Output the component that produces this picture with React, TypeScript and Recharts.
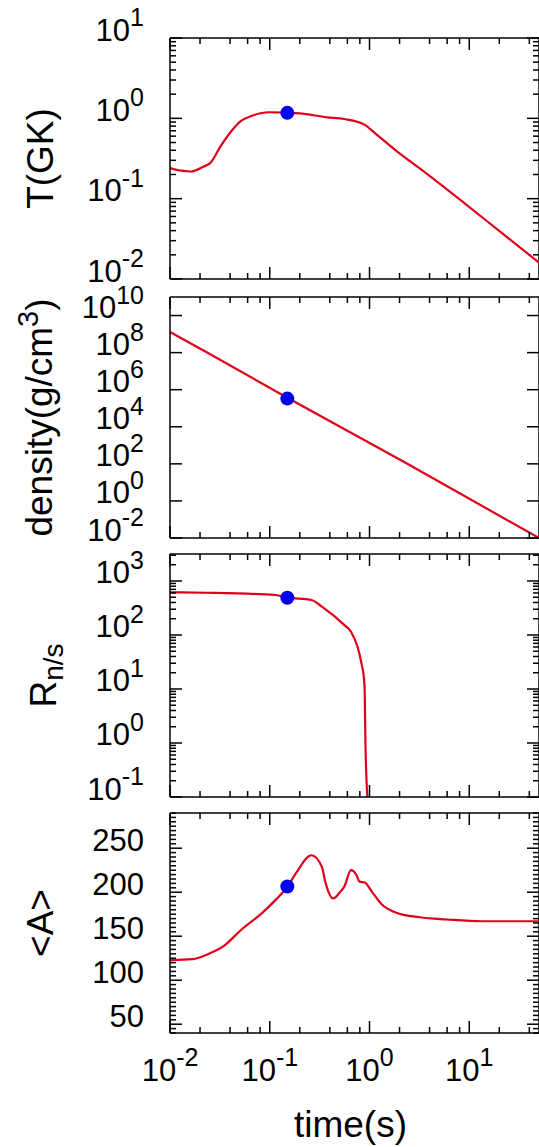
import React from "react";
import { LineChart, Line, XAxis, YAxis, ReferenceDot, ReferenceLine, Label } from "recharts";

const FONT = "'Liberation Sans', Arial, Helvetica, sans-serif";
const RED = "#e0001a";
const BLUE = "#0000f0";

const CHART_W = 539;
const AXIS_W = 170;
const PLOT_W = CHART_W - AXIS_W;
const MARGIN_TOP = 36;
const X_AXIS_H = 2;

// shared time axis (s)
const X_DOMAIN: [number, number] = [0.01, 50];
const X_MAJOR = [0.01, 0.1, 1, 10];
const X_MINOR = [0.02, 0.04, 0.06, 0.08, 0.2, 0.4, 0.6, 0.8, 2, 4, 6, 8, 20, 40];

// highlighted moment
const MARK_T = 0.15;

// temperature T(GK)
const T_TIME = [0.01, 0.0124, 0.0163, 0.0216, 0.0253, 0.032, 0.0407, 0.0515, 0.0656, 0.097, 0.15, 0.199, 0.376, 0.558, 0.897, 1.14, 1.83, 3.74, 8.93, 19.8, 50];
const T_GK = [0.24, 0.225, 0.218, 0.25, 0.277, 0.445, 0.68, 0.93, 1.07, 1.19, 1.18, 1.15, 1.03, 0.98, 0.83, 0.65, 0.4, 0.205, 0.088, 0.04, 0.016];
const T_MARK = 1.17;
const T_MAJOR = [0.01, 0.1, 1, 10];
const T_MINOR = [0.02, 0.03, 0.04, 0.05, 0.06, 0.07, 0.08, 0.09, 0.2, 0.3, 0.4, 0.5, 0.6, 0.7, 0.8, 0.9, 2, 3, 4, 5, 6, 7, 8, 9];

// density (g/cm^3)
const RHO_TIME = [0.01, 0.0233, 0.15, 2.32, 50];
const RHO_VALS = [1.3e9, 1.05e8, 3.7e5, 110, 0.01];
const RHO_MARK = 3.3e5;
const RHO_MAJOR = [1e-2, 1, 1e2, 1e4, 1e6, 1e8, 1e10];

// neutron-to-seed ratio
const R_TIME = [0.01, 0.0233, 0.114, 0.15, 0.262, 0.333, 0.557, 0.652, 0.766, 0.83, 0.883, 0.897, 0.91, 0.96];
const R_VALS = [617, 605, 550, 495, 445, 334, 154, 115, 57, 30, 14.8, 7.2, 1, 0.08];
const R_MARK = 490;
const R_MAJOR = [0.1, 1, 10, 100, 1000];
const R_MINOR = [0.2, 0.3, 0.4, 0.5, 0.6, 0.7, 0.8, 0.9, 2, 3, 4, 5, 6, 7, 8, 9, 20, 30, 40, 50, 60, 70, 80, 90, 200, 300, 400, 500, 600, 700, 800, 900, 2000, 3000];

// mean mass number <A>
const A_TIME = [0.01, 0.017, 0.0233, 0.0347, 0.0515, 0.083, 0.114, 0.15, 0.184, 0.262, 0.333, 0.36, 0.433, 0.514, 0.557, 0.652, 0.736, 0.796, 0.897, 1.05, 1.33, 1.83, 3.19, 6.0, 13.3, 50];
const A_VALS = [122.8, 124, 129, 139, 157, 176, 191, 206, 222, 242, 229, 212, 193, 201, 206, 225, 220, 212, 211, 201, 186, 177, 171.5, 169, 167, 167];
const A_MARK = 206.5;
const A_MAJOR = [50, 100, 150, 200, 250];
const A_MINOR = Array.from({ length: 51 }, (_, i) => 40 + i * 5).filter((v) => v % 50 !== 0);

function pow10(v: number) {
  const e = Math.round(Math.log10(v));
  return (
    <>
      10<tspan dy={-13} fontSize={25}>{e}</tspan>
    </>
  );
}

function plain(v: number) {
  return <>{v}</>;
}

const stroke = { stroke: "#000", strokeWidth: 1.5 };

interface PanelProps {
  top: number;
  plotH: number;
  bottom: number;
  time: number[];
  vals: number[];
  mark: number;
  yScale: "log" | "linear";
  yDomain: [number, number];
  yMajor: number[];
  yMinor: number[];
  fmt: (v: number) => React.ReactNode;
  title: React.ReactNode;
  titleX: number;
  curve: "monotone" | "linear";
  xLabels?: boolean;
}

function Panel(p: PanelProps) {
  const data = p.time.map((t, i) => ({ t, v: p.vals[i] }));
  const h = MARGIN_TOP + p.plotH + X_AXIS_H + p.bottom;
  const cy = MARGIN_TOP + p.plotH / 2;
  const axisY = MARGIN_TOP + p.plotH;

  const leftTick = (tp: any) => {
    const { x, y, payload } = tp;
    const major = p.yMajor.includes(payload.value);
    const len = major ? 12 : 6;
    return (
      <g>
        <line x1={x} y1={y} x2={x + len} y2={y} {...stroke} />
        <line x1={x + PLOT_W - len} y1={y} x2={x + PLOT_W} y2={y} {...stroke} />
        {major && (
          <text x={x - 26} y={y - 8} textAnchor="end" dominantBaseline="central" fontSize={31} fontFamily={FONT} fill="#000">
            {p.fmt(payload.value)}
          </text>
        )}
      </g>
    );
  };

  const bottomTick = (tp: any) => {
    const { x, payload } = tp;
    const major = X_MAJOR.includes(payload.value);
    const len = major ? 12 : 6;
    return (
      <g>
        <line x1={x} y1={axisY} x2={x} y2={axisY - len} {...stroke} />
        <line x1={x} y1={MARGIN_TOP} x2={x} y2={MARGIN_TOP + len} {...stroke} />
        {p.xLabels && major && (
          <text x={x} y={axisY + 37} textAnchor="middle" dominantBaseline="central" fontSize={31} fontFamily={FONT} fill="#000">
            {pow10(payload.value)}
          </text>
        )}
      </g>
    );
  };

  return (
    <div style={{ position: "absolute", left: 0, top: p.top - MARGIN_TOP }}>
      <LineChart width={CHART_W} height={h} data={data} margin={{ top: MARGIN_TOP, right: 0, bottom: p.bottom, left: 0 }}>
        <XAxis
          type="number"
          dataKey="t"
          scale="log"
          domain={X_DOMAIN}
          allowDataOverflow
          ticks={[...X_MAJOR, ...X_MINOR]}
          interval={0}
          height={X_AXIS_H}
          tickSize={0}
          tickMargin={0}
          tickLine={false}
          axisLine={stroke}
          tick={bottomTick}
        >
          {p.xLabels && (
            <Label
              content={() => (
                <text x={AXIS_W + PLOT_W / 2 - 4} y={axisY + 104} textAnchor="middle" fontSize={37} fontFamily={FONT} fill="#000">
                  time(s)
                </text>
              )}
            />
          )}
        </XAxis>
        <YAxis
          type="number"
          scale={p.yScale}
          domain={p.yDomain}
          allowDataOverflow
          ticks={[...p.yMajor, ...p.yMinor]}
          interval={0}
          width={AXIS_W}
          tickSize={0}
          tickMargin={0}
          tickLine={false}
          axisLine={stroke}
          tick={leftTick}
        >
          <Label
            content={() => (
              <text transform={`rotate(-90 ${p.titleX} ${cy})`} x={p.titleX} y={cy} textAnchor="middle" fontSize={37} fontFamily={FONT} fill="#000">
                {p.title}
              </text>
            )}
          />
        </YAxis>
        <ReferenceLine x={X_DOMAIN[1]} {...stroke} />
        <ReferenceLine y={p.yDomain[1]} {...stroke} />
        <Line dataKey="v" type={p.curve} stroke={RED} strokeWidth={2.2} dot={false} isAnimationActive={false} />
        <ReferenceDot x={MARK_T} y={p.mark} r={7} fill={BLUE} stroke="none" />
      </LineChart>
    </div>
  );
}

export default function App() {
  return (
    <div style={{ position: "absolute", left: 0, top: 0, width: 539, height: 1147, background: "#fff", overflow: "hidden" }}>
      <Panel
        top={38}
        plotH={241}
        bottom={10}
        time={T_TIME}
        vals={T_GK}
        mark={T_MARK}
        yScale="log"
        yDomain={[0.01, 10]}
        yMajor={T_MAJOR}
        yMinor={T_MINOR}
        fmt={pow10}
        title="T(GK)"
        titleX={53}
        curve="monotone"
      />
      <Panel
        top={297}
        plotH={241}
        bottom={10}
        time={RHO_TIME}
        vals={RHO_VALS}
        mark={RHO_MARK}
        yScale="log"
        yDomain={[0.01, 1e11]}
        yMajor={RHO_MAJOR}
        yMinor={[]}
        fmt={pow10}
        title={
          <>
            density(g/cm<tspan dy={-14} fontSize={29}>3</tspan>
            <tspan dy={14}>)</tspan>
          </>
        }
        titleX={52}
        curve="linear"
      />
      <Panel
        top={554}
        plotH={243}
        bottom={10}
        time={R_TIME}
        vals={R_VALS}
        mark={R_MARK}
        yScale="log"
        yDomain={[0.1, 3160]}
        yMajor={R_MAJOR}
        yMinor={R_MINOR}
        fmt={pow10}
        title={
          <>
            R<tspan dy={7} fontSize={28}>n/s</tspan>
          </>
        }
        titleX={56}
        curve="monotone"
      />
      <Panel
        top={813}
        plotH={220}
        bottom={112}
        time={A_TIME}
        vals={A_VALS}
        mark={A_MARK}
        yScale="linear"
        yDomain={[40, 290]}
        yMajor={A_MAJOR}
        yMinor={A_MINOR}
        fmt={plain}
        title="<A>"
        titleX={53}
        curve="monotone"
        xLabels
      />
    </div>
  );
}
